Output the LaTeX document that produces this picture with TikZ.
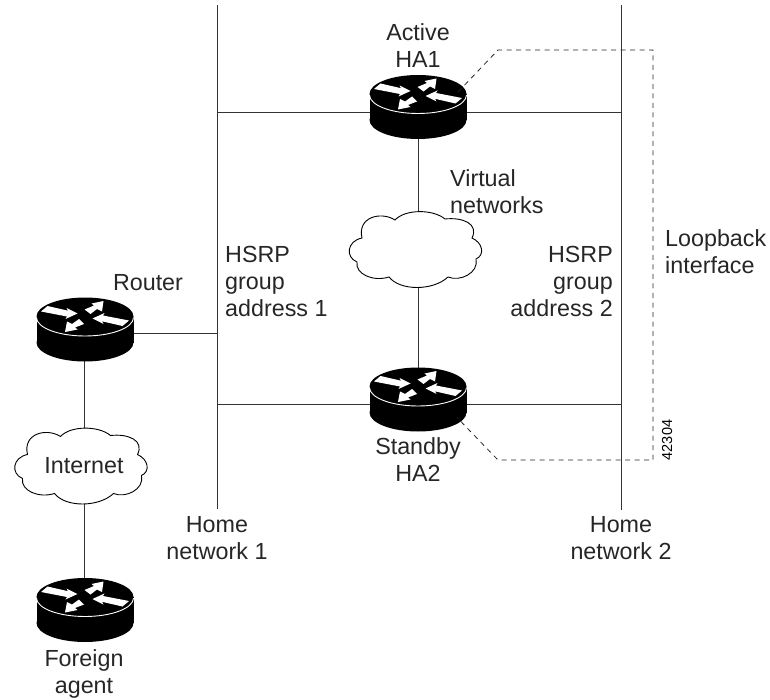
\documentclass[tikz,border=0pt]{standalone}
\usepackage{fontspec}
\setmainfont{Liberation Sans}
\usetikzlibrary{calc}
\tikzset{
  x=1pt,y=-1pt,
  link/.style={draw=black!80,line width=1pt},
  dash link/.style={draw=black!85,line width=.8pt,dash pattern=on 5pt off 4.5pt},
  lbl/.style={inner sep=0pt,text=black!85,font=\fontsize{23.3}{27}\selectfont},
  lblc/.style={lbl,align=center},
  lbll/.style={lbl,align=left,anchor=west},
  lblr/.style={lbl,align=right,anchor=east},
  pics/router/.style={code={
    \fill[black] (-48.5,-13) rectangle (48.5,13);
    \fill[black] (0,13) ellipse[x radius=48.5,y radius=19];
    \fill[black] (0,-13) ellipse[x radius=48.5,y radius=19];
    \draw[white,line width=.9pt] (-48.5,-12) arc[start angle=180,end angle=0,x radius=48.5,y radius=18.5];
    \fill[white] (-44,-18) -- (-37.5,-23.5) -- (-17,-18.8) -- (-18.5,-21.5) -- (-7.5,-16) -- (-19.5,-10.5) -- (-18,-13) -- cycle;
    \fill[white] (44,-9) -- (37.5,-3.5) -- (17,-8.2) -- (18.5,-5.5) -- (7.5,-11) -- (19.5,-16.5) -- (18,-14) -- cycle;
    \fill[white] (-0.5,-20) -- (9,-24) -- (6.5,-26) -- (18.5,-28.5) -- (17,-18) -- (12,-20.5) -- (5.5,-15.5) -- cycle;
    \fill[white] (-1,-5.5) -- (-10,-2) -- (-7.5,0) -- (-20,2.5) -- (-18,-8) -- (-13,-5.5) -- (-6,-10.5) -- cycle;
  }},
  pics/cloud/.style={code={
    \filldraw[fill=white,draw=black,line width=.9pt]
      (-20,-29) .. controls (-10,-40) and (18,-40) .. (30,-30)
      .. controls (48,-32) and (64,-25) .. (57,-11)
      .. controls (68,-6) and (70,6) .. (61,10)
      .. controls (64,24) and (45,33) .. (33,28)
      .. controls (18,42) and (-15,42) .. (-26,28)
      .. controls (-42,33) and (-60,25) .. (-58,13)
      .. controls (-70,8) and (-68,-8) .. (-53,-11)
      .. controls (-58,-32) and (-34,-38) .. (-20,-29) -- cycle;
  }},
}
\begin{document}
\begin{tikzpicture}
\useasboundingbox (0,0) rectangle (770,700);
% named points
\coordinate (ha1) at (418,107);
\coordinate (ha2) at (418,399.5);
\coordinate (rt) at (85,329.5);
\coordinate (fa) at (85,610);
\coordinate (vn) at (415,249);
\coordinate (inet) at (80.5,465.5);
\coordinate (h1t) at (217,5);
\coordinate (h1b) at (217,509);
\coordinate (h2t) at (621,5);
\coordinate (h2b) at (621,510);
\coordinate (h1a) at (217,113);
\coordinate (h2a) at (621,113);
\coordinate (h1s) at (217,404);
\coordinate (h2s) at (621,404);
\coordinate (h1r) at (217,333.5);
\coordinate (rl) at (85,333.5);
\coordinate (rv) at (84,335);
\coordinate (fv) at (84,600);
\coordinate (d1) at (498,50);
\coordinate (d2) at (653,50);
\coordinate (d3) at (653,460);
\coordinate (d4) at (498,460);
% connectors
\draw[link] (h1t) -- (h1b);
\draw[link] (h2t) -- (h2b);
\draw[link] (h1a) -- (h2a);
\draw[link] (h1s) -- (h2s);
\draw[link] (rl) -- (h1r);
\draw[link] (ha1) -- (ha2);
\draw[link] (rv) -- (fv);
% devices
\pic at (ha1) {router};
\pic at (ha2) {router};
\pic at (rt) {router};
\pic at (fa) {router};
\pic at (vn) {cloud};
\pic at (inet) {cloud};
\draw[dash link] ($(ha1)+(40,-15)$) -- (d1) -- (d2) -- (d3) -- (d4) -- ($(ha2)+(39,18)$);
% labels
\node[lblc] (tha1) at (418,46) {Active\\HA1};
\node[lblc] (tha2) at (418,460) {Standby\\HA2};
\node[lbll] (tvn) at (450,192) {Virtual\\networks};
\node[lbll] (tg1) at (225,281) {HSRP\\group\\address 1};
\node[lblr] (tg2) at (613,281) {HSRP\\group\\address 2};
\node[lbll] (tlb) at (665,252) {Loopback\\interface};
\node[lblc] (trt) at (148,283) {Router};
\node[lblc] (tin) at (84,466) {Internet};
\node[lblc] (th1) at (217,538) {Home\\network 1};
\node[lblc] (th2) at (621,538) {Home\\network 2};
\node[lblc] (tfa) at (84,674) {Foreign\\agent};
\node[inner sep=0pt,rotate=90,text=black,font=\fontsize{14.5}{16}\selectfont] (num) at (667,440) {42304};
\end{tikzpicture}
\end{document}
